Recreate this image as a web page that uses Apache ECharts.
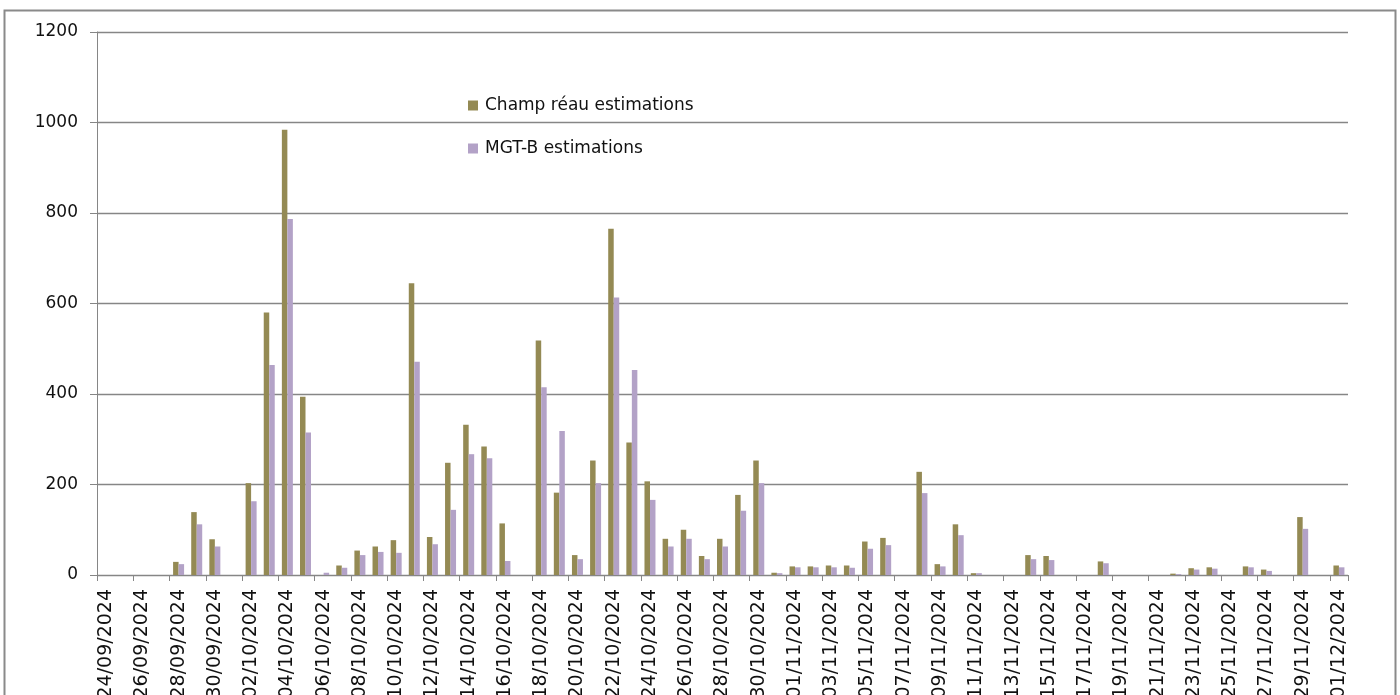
<!DOCTYPE html>
<html>
<head>
<meta charset="utf-8">
<title>Estimations journalières</title>
<script src="https://cdn.jsdelivr.net/npm/echarts@6/dist/echarts.min.js"></script>
<style>
  html, body { margin: 0; padding: 0; background: #ffffff; }
  #chart { width: 1400px; height: 695px; }
</style>
</head>
<body>
<div id="chart"></div>
<script>
// Daily dates, 24/09/2024 to 01/12/2024
const dates = [
  '24/09/2024','25/09/2024','26/09/2024','27/09/2024','28/09/2024','29/09/2024','30/09/2024',
  '01/10/2024','02/10/2024','03/10/2024','04/10/2024','05/10/2024','06/10/2024','07/10/2024',
  '08/10/2024','09/10/2024','10/10/2024','11/10/2024','12/10/2024','13/10/2024','14/10/2024',
  '15/10/2024','16/10/2024','17/10/2024','18/10/2024','19/10/2024','20/10/2024','21/10/2024',
  '22/10/2024','23/10/2024','24/10/2024','25/10/2024','26/10/2024','27/10/2024','28/10/2024',
  '29/10/2024','30/10/2024','31/10/2024','01/11/2024','02/11/2024','03/11/2024','04/11/2024',
  '05/11/2024','06/11/2024','07/11/2024','08/11/2024','09/11/2024','10/11/2024','11/11/2024',
  '12/11/2024','13/11/2024','14/11/2024','15/11/2024','16/11/2024','17/11/2024','18/11/2024',
  '19/11/2024','20/11/2024','21/11/2024','22/11/2024','23/11/2024','24/11/2024','25/11/2024',
  '26/11/2024','27/11/2024','28/11/2024','29/11/2024','30/11/2024','01/12/2024'
];

// Champ réau estimations (null = no value that day)
const champReau = [
  null, null, null, null, 29, 139, 79,
  null, 203, 580, 984, 394, 0, 21,
  54, 63, 77, 645, 84, 248, 332,
  284, 114, null, 518, 182, 44, 253,
  765, 293, 207, 80, 100, 42, 80,
  177, 253, 5, 19, 19, 21, 21,
  74, 82, null, 228, 24, 112, 4,
  null, null, 44, 42, null, null, 30,
  null, null, null, 3, 15, 17, null,
  19, 12, null, 128, null, 21
];

// MGT-B estimations
const mgtB = [
  null, null, null, null, 24, 112, 63,
  null, 163, 464, 787, 315, 5, 16,
  44, 51, 49, 471, 68, 144, 267,
  258, 31, null, 415, 318, 35, 203,
  613, 453, 166, 63, 80, 35, 63,
  142, 203, 4, 17, 17, 17, 16,
  58, 66, null, 181, 19, 88, 4,
  null, null, 35, 33, null, null, 26,
  null, null, null, 2, 12, 14, null,
  17, 9, null, 102, null, 17
];

// Value axis ticks
const yMin = 0;
const yMax = 1200;
const yStep = 200;

const seriesNames = ['Champ réau estimations', 'MGT-B estimations'];
const seriesColors = ['#948A54', '#B3A2C7'];

const FONT = 'DejaVu Sans';
const GRID_COLOR = '#868686';

const chart = echarts.init(document.getElementById('chart'), null, { renderer: 'canvas' });

chart.setOption({
  animation: false,
  backgroundColor: '#ffffff',
  textStyle: { fontFamily: FONT },
  graphic: [{
    type: 'rect',
    shape: { x: 4.5, y: 10.5, width: 1391, height: 720 },
    style: { fill: 'none', stroke: '#8a8a8a', lineWidth: 2 },
    silent: true
  }],
  grid: {
    left: 97, right: 52, top: 32, bottom: 120,
    containLabel: false,
    outerBoundsMode: 'none'
  },
  legend: {
    orient: 'vertical',
    left: 468,
    top: 97,
    padding: 0,
    itemWidth: 10,
    itemHeight: 10,
    itemGap: 26,
    icon: 'rect',
    textStyle: {
      fontFamily: FONT, fontSize: 17, color: '#111', lineHeight: 17,
      padding: [0, 0, 0, 2]
    },
    data: seriesNames
  },
  xAxis: {
    type: 'category',
    data: dates,
    boundaryGap: true,
    axisLine: { show: true, lineStyle: { color: GRID_COLOR, width: 1 } },
    axisTick: { show: true, interval: 1, length: 6, lineStyle: { color: GRID_COLOR } },
    axisLabel: {
      interval: 1,
      rotate: 90,
      margin: 14,
      fontFamily: FONT,
      fontSize: 19,
      color: '#111'
    },
    splitLine: { show: false }
  },
  yAxis: {
    type: 'value',
    min: yMin,
    max: yMax,
    interval: yStep,
    axisLine: { show: true, lineStyle: { color: GRID_COLOR, width: 1 } },
    axisTick: { show: true, length: 7, lineStyle: { color: GRID_COLOR } },
    axisLabel: {
      margin: 19,
      fontFamily: FONT,
      fontSize: 17,
      color: '#111',
      formatter: (v) => String(v)
    },
    splitLine: { show: true, lineStyle: { color: GRID_COLOR, width: 1.3 } }
  },
  series: [
    {
      name: seriesNames[0],
      type: 'bar',
      data: champReau,
      barWidth: 5.5,
      barGap: '0%',
      itemStyle: { color: seriesColors[0] }
    },
    {
      name: seriesNames[1],
      type: 'bar',
      data: mgtB,
      barWidth: 5.5,
      barGap: '0%',
      itemStyle: { color: seriesColors[1] }
    }
  ]
});
</script>
</body>
</html>
